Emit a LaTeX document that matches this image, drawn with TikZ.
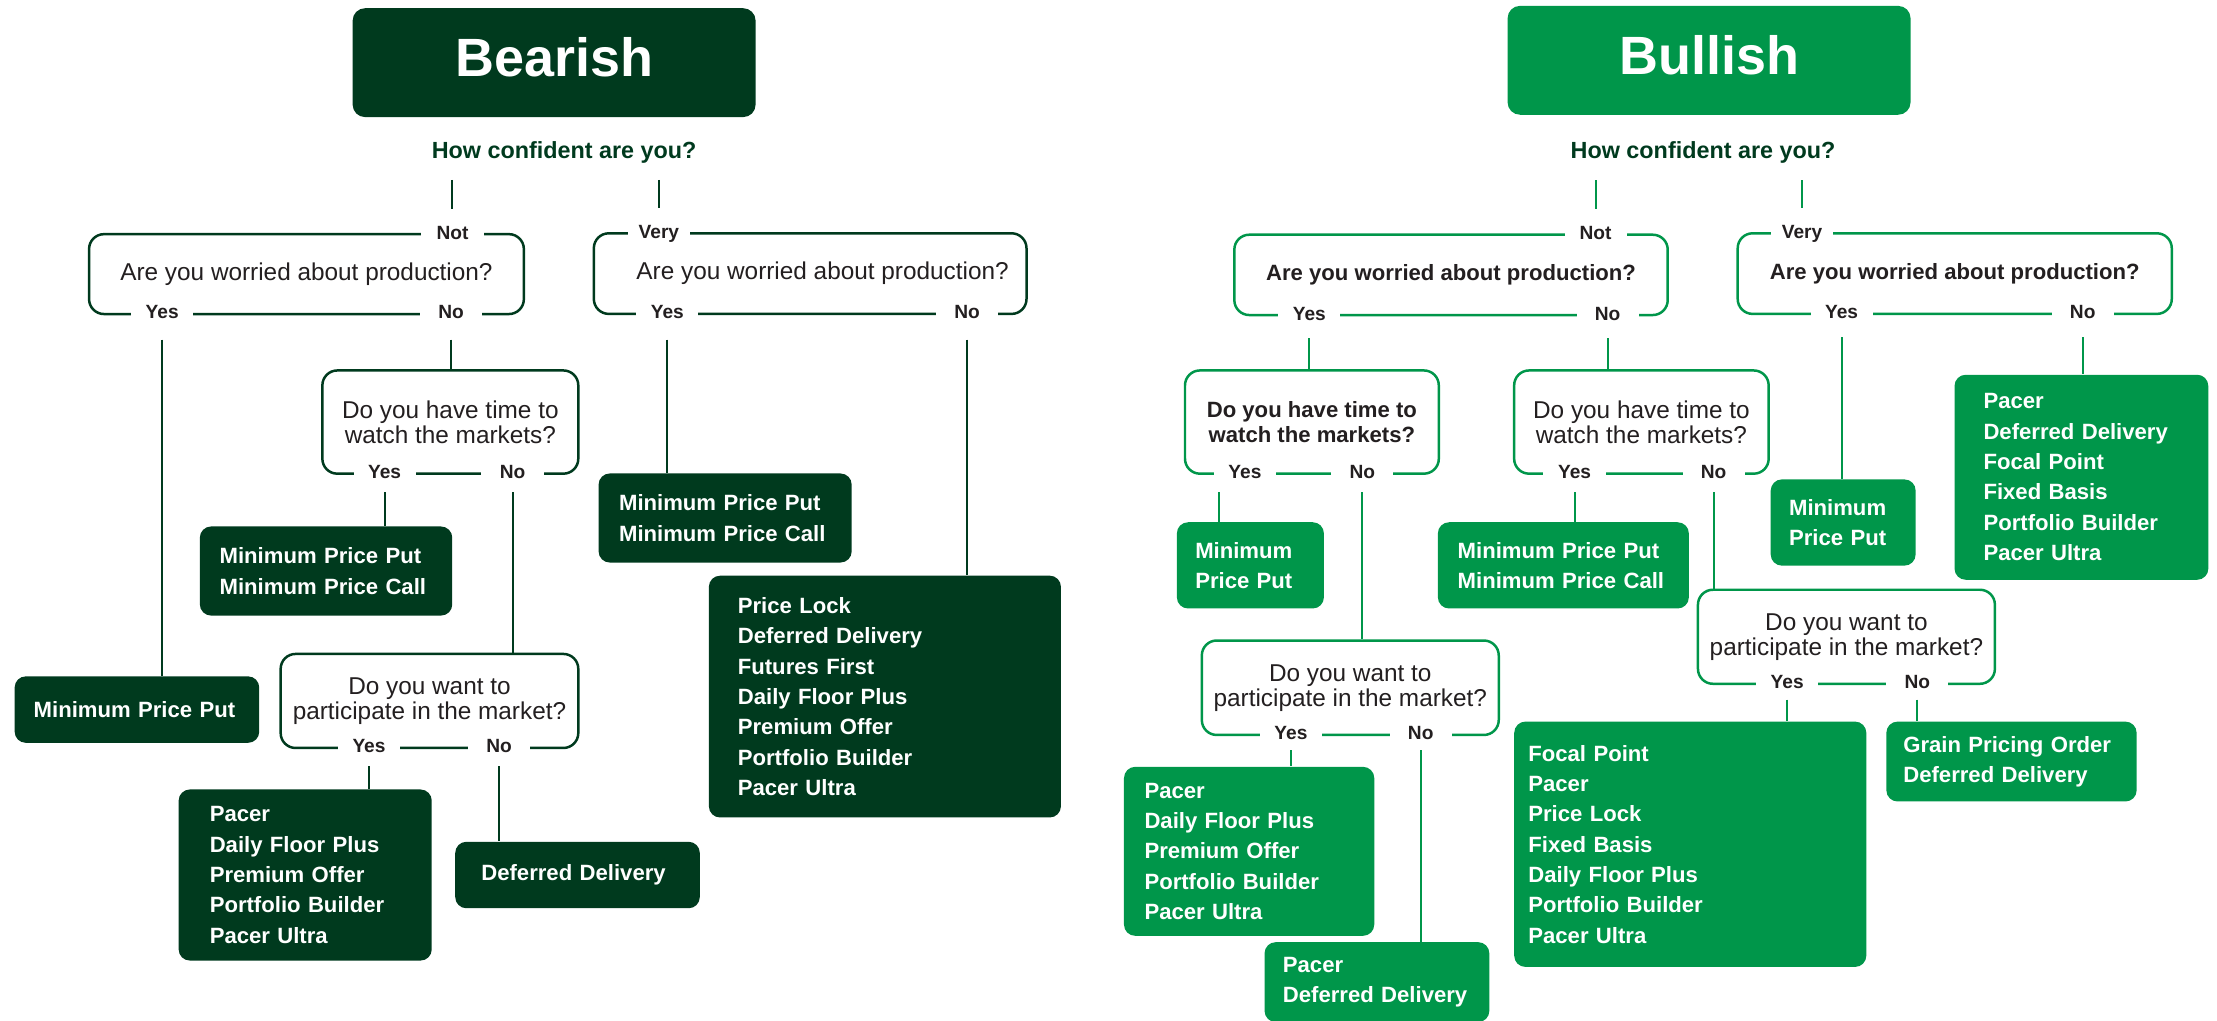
\documentclass[tikz,border=0pt]{standalone}
\usepackage{fontspec}
\setmainfont{Liberation Sans}
\usepackage{tikz}

\definecolor{bear}{HTML}{003A1E}
\definecolor{bull}{HTML}{00964A}
\definecolor{ink}{HTML}{231F20}

\tikzset{
  headbox/.style={fill=#1, rounded corners=5pt, text=white, inner sep=0pt,
    minimum width=57mm, minimum height=15.4mm, text depth=4.5pt,
    font=\fontsize{21.7}{24}\selectfont\bfseries},
  ask/.style={text=bear, inner sep=0pt, font=\fontsize{9.4}{11}\selectfont\bfseries},
  question/.style={draw=#1, fill=white, line width=1pt, rounded corners=6pt,
    align=center, text=ink, inner sep=0pt, font=\fontsize{9.8}{10}\selectfont},
  boldq/.style={font=\fontsize{8.9}{10}\selectfont\bfseries},
  tag/.style={fill=white, text=ink, inner xsep=0pt, inner ysep=1pt, minimum width=25pt,
    text height=5.6pt, text depth=1.6pt, font=\fontsize{7.7}{9}\selectfont\bfseries},
  answer/.style={fill=#1, rounded corners=4.5pt, text=white, anchor=north west,
    align=left, inner ysep=0pt, font=\fontsize{8.9}{12.2}\selectfont\bfseries},
  link/.style={draw=#1, line width=0.8pt},
}

\begin{document}
\begin{tikzpicture}[x=0.2mm, y=-0.2mm]
  \useasboundingbox (0,0) rectangle (1568,721.4);

  % bearish side
  \node[headbox=bear] (bearTitle) at (391.9,44.3) {Bearish};
  \node[ask] (bearAsk) at (399,107.5) {How confident are you?};

  \node[question=bear, minimum width=61.5mm, minimum height=11.3mm] (bearQ1) at (216.75,193.85)
    {Are you worried about production?};
  \node[question=bear, minimum width=61.2mm, minimum height=11.4mm] (bearQ2) at (573,193.5)
    {\hspace*{10pt}Are you worried about production?};
  \node[question=bear, minimum width=36.2mm, minimum height=14.6mm] (bearQ3) at (318.5,298.5)
    {Do you have time to\\watch the markets?};
  \node[question=bear, minimum width=42.1mm, minimum height=13.3mm] (bearQ4) at (303.75,495.75)
    {Do you want to\\participate in the market?};

  \node[tag] (bearNot) at (320,165.7) {Not};
  \node[tag] (bearVery) at (466,165) {Very};
  \node[tag] (bearQ1y) at (114.7,222) {Yes};
  \node[tag] (bearQ1n) at (319,222) {No};
  \node[tag] (bearQ2y) at (472,222) {Yes};
  \node[tag] (bearQ2n) at (684,222) {No};
  \node[tag] (bearQ3y) at (272,335) {Yes};
  \node[tag] (bearQ3n) at (362.5,335) {No};
  \node[tag] (bearQ4y) at (261,529) {Yes};
  \node[tag] (bearQ4n) at (353,529) {No};

  \node[answer=bear, inner xsep=2.7mm, text width=29.2mm, minimum height=9.4mm] (bearA1) at (10,478)
    {Minimum Price Put};
  \node[answer=bear, inner xsep=2.8mm, text width=30.1mm, minimum height=12.6mm] (bearA2) at (141,372)
    {Minimum Price Put\\Minimum Price Call};
  \node[answer=bear, inner xsep=4.4mm, text width=27mm, minimum height=24.2mm] (bearA3) at (126,558)
    {Pacer\\Daily Floor Plus\\Premium Offer\\Portfolio Builder\\Pacer Ultra};
  \node[answer=bear, inner xsep=3.7mm, text width=27.2mm, minimum height=9.4mm] (bearA4) at (321.6,595)
    {Deferred Delivery};
  \node[answer=bear, inner xsep=2.9mm, text width=30mm, minimum height=12.6mm] (bearA5) at (423,334.5)
    {Minimum Price Put\\Minimum Price Call};
  \node[answer=bear, inner xsep=4.1mm, text width=41.6mm, minimum height=34.2mm] (bearA6) at (501,406.8)
    {Price Lock\\Deferred Delivery\\Futures First\\Daily Floor Plus\\Premium Offer\\Portfolio Builder\\Pacer Ultra};

  \draw[link=bear, shorten <=6.6pt, shorten >=5.4pt] (bearAsk.south -| bearNot) -- (bearNot.north);
  \draw[link=bear, shorten <=6.6pt, shorten >=5.4pt] (bearAsk.south -| bearVery) -- (bearVery.north);
  \draw[link=bear, shorten <=5.6pt] (bearQ1y.south) -- (bearQ1y.south |- bearA1.north);
  \draw[link=bear, shorten <=5.6pt] (bearQ1n.south) -- (bearQ1n.south |- bearQ3.north);
  \draw[link=bear, shorten <=5.6pt] (bearQ2y.south) -- (bearQ2y.south |- bearA5.north);
  \draw[link=bear, shorten <=5.6pt] (bearQ2n.south) -- (bearQ2n.south |- bearA6.north);
  \draw[link=bear, shorten <=2.7pt] (bearQ3y.south) -- (bearQ3y.south |- bearA2.north);
  \draw[link=bear, shorten <=2.7pt] (bearQ3n.south) -- (bearQ3n.south |- bearQ4.north);
  \draw[link=bear, shorten <=2.6pt] (bearQ4y.south) -- (bearQ4y.south |- bearA3.north);
  \draw[link=bear, shorten <=2.6pt] (bearQ4n.south) -- (bearQ4n.south |- bearA4.north);

  % bullish side
  \node[headbox=bull] (bullTitle) at (1208.75,42.65) {Bullish};
  \node[ask] (bullAsk) at (1204.5,108) {How confident are you?};

  \node[question=bull, boldq, minimum width=61.3mm, minimum height=11.36mm] (bullQ1) at (1026.25,194.4)
    {Are you worried about production?};
  \node[question=bull, boldq, minimum width=61.4mm, minimum height=11.4mm] (bullQ2) at (1382.5,193.5)
    {Are you worried about production?};
  \node[question=bull, boldq, minimum width=35.9mm, minimum height=14.6mm] (bullQ3) at (927.85,298.5)
    {Do you have time to\\watch the markets?};
  \node[question=bull, minimum width=36mm, minimum height=14.6mm] (bullQ4) at (1160.9,298.5)
    {Do you have time to\\watch the markets?};
  \node[question=bull, minimum width=42mm, minimum height=13.36mm] (bullQ5) at (955,486.4)
    {Do you want to\\participate in the market?};
  \node[question=bull, minimum width=42mm, minimum height=13.3mm] (bullQ6) at (1305.9,450.35)
    {Do you want to\\participate in the market?};

  \node[tag] (bullNot) at (1128.5,166) {Not};
  \node[tag] (bullVery) at (1274.5,165) {Very};
  \node[tag] (bullQ1y) at (926,222.8) {Yes};
  \node[tag] (bullQ1n) at (1137,222.8) {No};
  \node[tag] (bullQ2y) at (1302.5,222) {Yes};
  \node[tag] (bullQ2n) at (1473,222) {No};
  \node[tag] (bullQ3y) at (880.5,335) {Yes};
  \node[tag] (bullQ3n) at (963.5,335) {No};
  \node[tag] (bullQ4y) at (1113.6,335) {Yes};
  \node[tag] (bullQ4n) at (1212,335) {No};
  \node[tag] (bullQ5y) at (913,519.8) {Yes};
  \node[tag] (bullQ5n) at (1004.8,519.8) {No};
  \node[tag] (bullQ6y) at (1264,483.7) {Yes};
  \node[tag] (bullQ6n) at (1356,483.7) {No};

  \node[answer=bull, inner xsep=2.6mm, text width=15.6mm, minimum height=12.2mm] (bullA1) at (832,369)
    {Minimum\\Price Put};
  \node[answer=bull, inner xsep=2.8mm, text width=29.9mm, minimum height=12.2mm] (bullA2) at (1016.6,369)
    {Minimum Price Put\\Minimum Price Call};
  \node[answer=bull, inner xsep=2.6mm, text width=15.3mm, minimum height=12.2mm] (bullA3) at (1252,338.7)
    {Minimum\\Price Put};
  \node[answer=bull, inner xsep=4.1mm, text width=27.7mm, minimum height=29mm] (bullA4) at (1382,264.7)
    {Pacer\\Deferred Delivery\\Focal Point\\Fixed Basis\\Portfolio Builder\\Pacer Ultra};
  \node[answer=bull, inner xsep=2.9mm, text width=29.6mm, minimum height=23.9mm] (bullA5) at (794.6,542)
    {Pacer\\Daily Floor Plus\\Premium Offer\\Portfolio Builder\\Pacer Ultra};
  \node[answer=bull, inner xsep=2.6mm, text width=26.6mm, minimum height=11.3mm] (bullA6) at (894,666)
    {Pacer\\Deferred Delivery};
  \node[answer=bull, inner xsep=2mm, text width=45.8mm, minimum height=34.7mm] (bullA7) at (1070.6,510)
    {Focal Point\\Pacer\\Price Lock\\Fixed Basis\\Daily Floor Plus\\Portfolio Builder\\Pacer Ultra};
  \node[answer=bull, inner xsep=2.4mm, text width=30.6mm, minimum height=11.3mm] (bullA8) at (1333.8,510)
    {Grain Pricing Order\\Deferred Delivery};

  \draw[link=bull, shorten <=6.6pt, shorten >=5.4pt] (bullAsk.south -| bullNot) -- (bullNot.north);
  \draw[link=bull, shorten <=6.6pt, shorten >=5.4pt] (bullAsk.south -| bullVery) -- (bullVery.north);
  \draw[link=bull, shorten <=4.5pt] (bullQ1y.south) -- (bullQ1y.south |- bullQ3.north);
  \draw[link=bull, shorten <=4.5pt] (bullQ1n.south) -- (bullQ1n.south |- bullQ4.north);
  \draw[link=bull, shorten <=4.5pt] (bullQ2y.south) -- (bullQ2y.south |- bullA3.north);
  \draw[link=bull, shorten <=4.5pt] (bullQ2n.south) -- (bullQ2n.south |- bullA4.north);
  \draw[link=bull, shorten <=2.6pt] ([xshift=-10.5pt]bullQ3y.south) -- ([xshift=-10.5pt]bullQ3y.south |- bullA1.north);
  \draw[link=bull, shorten <=2.6pt] (bullQ3n.south) -- (bullQ3n.south |- bullQ5.north);
  \draw[link=bull, shorten <=2.6pt] (bullQ4y.south) -- (bullQ4y.south |- bullA2.north);
  \draw[link=bull, shorten <=2.6pt] (bullQ4n.south) -- (bullQ4n.south |- bullQ6.north);
  \draw[link=bull, shorten <=1.3pt] (bullQ5y.south) -- (bullQ5y.south |- bullA5.north);
  \draw[link=bull, shorten <=1.3pt] (bullQ5n.south) -- (bullQ5n.south |- bullA6.north);
  \draw[link=bull, shorten <=1.5pt] (bullQ6y.south) -- (bullQ6y.south |- bullA7.north);
  \draw[link=bull, shorten <=1.5pt] (bullQ6n.south) -- (bullQ6n.south |- bullA8.north);
\end{tikzpicture}
\end{document}
